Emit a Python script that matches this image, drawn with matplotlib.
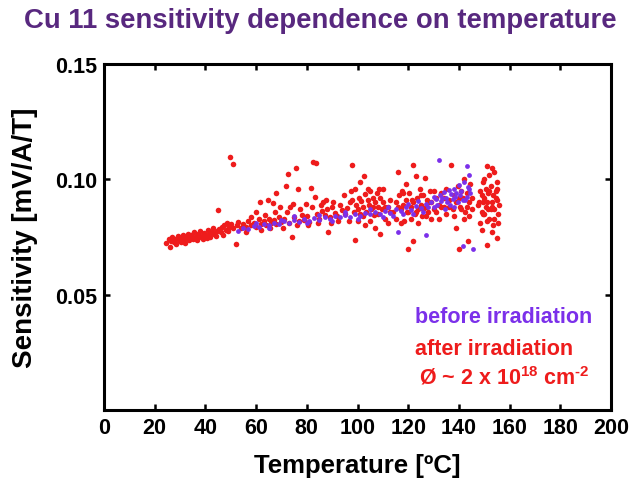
import matplotlib
matplotlib.use("Agg")
import matplotlib.pyplot as plt

plt.rcParams['font.family'] = ['Liberation Sans', 'DejaVu Sans']
plt.rcParams['mathtext.fontset'] = 'custom'
plt.rcParams['mathtext.rm'] = 'Liberation Sans:bold'
plt.rcParams['mathtext.bf'] = 'Liberation Sans:bold'
plt.rcParams['mathtext.it'] = 'Liberation Sans:bold'

# ---- data: after irradiation (red) ----
after_T = [
    24.5, 25.5, 26, 26.5, 27, 27.5, 28, 28.5, 29, 29.5,
    30, 30.5, 31, 31.5, 32, 32.5, 33, 33.5, 34, 34.5,
    35, 35.5, 36, 36.5, 37, 37.5, 38, 38.5, 39, 39.5,
    40, 40.5, 41, 41.5, 42, 42.5, 43, 43.5, 44, 44.5,
    45, 45.5, 46, 46.5, 47, 47.5, 48, 48.5, 49, 49.5,
    49.7, 50.9, 50, 51, 52, 52.5, 53, 54, 55, 56,
    57, 58, 59, 60, 61, 61.5, 62, 63, 64, 64.7,
    65, 66, 66.7, 67, 67.9, 68, 69, 70, 71, 71.8,
    72.6, 73, 74.2, 74.6, 75, 75.7, 76.5, 77, 78, 79,
    80, 81, 81.7, 82.4, 83.2, 83.6, 84, 85, 86, 86.4,
    87, 88, 88.4, 89, 90, 91, 92, 93, 94, 95,
    96, 97, 98, 98.5, 99, 99.5, 100, 100.5, 101, 101.5,
    102, 102.6, 103, 103.5, 104, 104.5, 105, 105.5, 106, 106.5,
    107, 107.5, 108, 108.5, 109, 109.5, 110, 111, 112, 113,
    114, 115, 116, 116.5, 117, 117.5, 118, 118.5, 119, 119.5,
    120, 120.5, 121, 121.5, 121.9, 122, 122.5, 123, 123.5, 124,
    124.5, 125, 125.5, 126, 126.6, 127, 127.5, 128, 128.5, 129,
    130, 131, 132, 133, 134, 135, 136, 137, 137.5, 138,
    139, 139.5, 140, 140.5, 141, 141.5, 142, 142.5, 143, 143.6,
    144, 144.5, 145, 148, 148.5, 149, 149.5, 150, 150.5, 151,
    151, 151.5, 152, 152.5, 153, 153, 153.5, 154, 154, 154.5,
    155, 155, 155.5, 150, 152, 149, 151, 153, 155, 147.5,
    150.5, 152.5, 154.5,
    56, 58, 60, 62, 63.5, 65.5, 67.5, 69.5, 70.5, 72,
    73.5, 76, 77.5, 79.5, 80.5, 82, 84.5, 85.5, 87.5, 89.5,
    90.5, 92.5, 94.5, 96.5, 97.5,
    98, 99, 100, 101, 102, 103, 104, 105, 106, 107,
    108, 109, 110, 111, 112, 113, 115, 116, 117, 118,
    119, 120, 121, 122, 123, 124, 125, 126, 127, 128,
    129, 130, 131, 132, 133, 134, 135, 136, 138, 139,
    140, 141, 142, 143, 144, 145, 148.5, 149, 149.5, 150,
    151, 152, 153, 154, 155, 156, 153.5, 151.5, 149.5, 155.5,
]
after_S = [
    0.0725, 0.0740, 0.0705, 0.0733, 0.0750, 0.0728, 0.0742, 0.0720, 0.0755, 0.0738,
    0.0745, 0.0730, 0.0760, 0.0740, 0.0725, 0.0750, 0.0765, 0.0735, 0.0748, 0.0758,
    0.0740, 0.0770, 0.0752, 0.0735, 0.0762, 0.0748, 0.0775, 0.0755, 0.0740, 0.0768,
    0.0758, 0.0745, 0.0780, 0.0762, 0.0750, 0.0772, 0.0790, 0.0765, 0.0755, 0.0778,
    0.0867, 0.0785, 0.0770, 0.0795, 0.0760, 0.0800, 0.0782, 0.0810, 0.0775, 0.0792,
    0.1097, 0.1066, 0.0805, 0.0788, 0.0720, 0.0800, 0.0815, 0.0790, 0.0808, 0.0795,
    0.0820, 0.0800, 0.0812, 0.0795, 0.0828, 0.0902, 0.0808, 0.0818, 0.0800, 0.0910,
    0.0830, 0.0812, 0.0897, 0.0822, 0.0941, 0.0805, 0.0835, 0.0815, 0.0828, 0.0971,
    0.1023, 0.0810, 0.0750, 0.0893, 0.0838, 0.1049, 0.0958, 0.0820, 0.0845, 0.0825,
    0.0840, 0.0815, 0.0962, 0.1075, 0.0923, 0.1070, 0.0850, 0.0830, 0.0862, 0.0902,
    0.0845, 0.0870, 0.0772, 0.0838, 0.0880, 0.0855, 0.0842, 0.0890, 0.0865, 0.0848,
    0.0875, 0.0900, 0.1062, 0.0860, 0.0737, 0.0890, 0.0870, 0.0920, 0.0850, 0.0905,
    0.0880, 0.1014, 0.0935, 0.0860, 0.0910, 0.0890, 0.0950, 0.0870, 0.0920, 0.0845,
    0.0900, 0.0940, 0.0880, 0.0960, 0.0763, 0.0870, 0.0900, 0.0830, 0.0880, 0.0910,
    0.0860, 0.0900, 0.1030, 0.0930, 0.0870, 0.0950, 0.0890, 0.0820, 0.0910, 0.0860,
    0.0698, 0.0940, 0.0880, 0.0910, 0.1062, 0.0733, 0.0850, 0.1014, 0.0920, 0.0870,
    0.0960, 0.0890, 0.0840, 0.0930, 0.1006, 0.0880, 0.0910, 0.0860, 0.0950, 0.0900,
    0.0870, 0.0920, 0.0890, 0.0940, 0.0880, 0.0960, 0.0910, 0.1062, 0.0870, 0.0930,
    0.0900, 0.0970, 0.0698, 0.0880, 0.0950, 0.0920, 0.1000, 0.0860, 0.0940, 0.0733,
    0.0900, 0.0980, 0.0870, 0.0900, 0.0950, 0.0860, 0.0990, 0.0920, 0.0880, 0.1058,
    0.0715, 0.0940, 0.0830, 0.0970, 0.1050, 0.0900, 0.0800, 0.1030, 0.0870, 0.0950,
    0.0745, 0.0910, 0.0850, 0.1000, 0.1020, 0.0780, 0.0820, 0.0770, 0.0990, 0.0890,
    0.0960, 0.0870, 0.0920,
    0.0770, 0.0835, 0.0860, 0.0780, 0.0845, 0.0790, 0.0860, 0.0880, 0.0790, 0.0860,
    0.0880, 0.0800, 0.0870, 0.0895, 0.0800, 0.0880, 0.0810, 0.0890, 0.0910, 0.0810,
    0.0900, 0.0820, 0.0930, 0.0820, 0.0950,
    0.0910, 0.0960, 0.0820, 0.0990, 0.0840, 0.0800, 0.0960, 0.0820, 0.0880, 0.0790,
    0.0850, 0.0920, 0.0960, 0.0880, 0.0810, 0.0860, 0.0830, 0.0880, 0.0810, 0.0940,
    0.0980, 0.0860, 0.0830, 0.0900, 0.0860, 0.0810, 0.0930, 0.0870, 0.0840, 0.0900,
    0.0830, 0.0950, 0.0860, 0.0830, 0.0880, 0.0920, 0.0850, 0.0880, 0.0840, 0.0790,
    0.0920, 0.0870, 0.0830, 0.0880, 0.0840, 0.0920, 0.0810, 0.0930, 0.0850, 0.0850,
    0.0900, 0.0950, 0.0880, 0.0830, 0.0960, 0.0890, 0.0930, 0.0870, 0.0900, 0.0810,
]

# ---- data: before irradiation (purple) ----
before_T = [
    53, 55, 57, 59, 61, 63, 65, 67, 69, 71,
    73, 75, 77, 79, 81, 83, 85, 87, 89, 91,
    93, 95, 97, 99, 101, 103, 105, 107, 109, 111,
    113, 115, 116, 117, 119, 121, 123, 125, 127, 127,
    129, 130, 131, 132, 132.5, 133, 134, 135, 136, 137,
    138, 139, 140, 141, 141.6, 142, 143, 143.5, 144, 145.5,
    144.5, 142.5, 139.5, 136.5, 134.5,
    110, 112, 114, 118, 120, 122, 124, 126, 128, 130,
    131.5, 133.5, 135.5, 137.5, 138.5, 140.5, 141.5, 143, 144, 138,
    75, 80, 85, 90, 95, 100, 105, 60, 65, 70,
]
before_S = [
    0.0778, 0.0790, 0.0785, 0.0798, 0.0792, 0.0805, 0.0800, 0.0812, 0.0805, 0.0818,
    0.0810, 0.0822, 0.0815, 0.0828, 0.0820, 0.0832, 0.0825, 0.0838, 0.0830, 0.0842,
    0.0835, 0.0845, 0.0838, 0.0850, 0.0842, 0.0855, 0.0848, 0.0858, 0.0850, 0.0862,
    0.0855, 0.0870, 0.0770, 0.0862, 0.0878, 0.0868, 0.0885, 0.0875, 0.0760, 0.0892,
    0.0900, 0.0880, 0.0915, 0.1084, 0.0930, 0.0905, 0.0945, 0.0920, 0.0955, 0.0935,
    0.0960, 0.0940, 0.0975, 0.0950, 0.0710, 0.0990, 0.1058, 0.0965, 0.1020, 0.0698,
    0.0940, 0.0910, 0.0900, 0.0890, 0.0870,
    0.0835, 0.0880, 0.0840, 0.0850, 0.0895, 0.0850, 0.0905, 0.0860, 0.0880, 0.0925,
    0.0890, 0.0920, 0.0900, 0.0915, 0.0925, 0.0930, 0.0910, 0.0925, 0.0960, 0.0880,
    0.0840, 0.0810, 0.0845, 0.0820, 0.0860, 0.0830, 0.0870, 0.0810, 0.0790, 0.0825,
]

x_ticks = [0, 20, 40, 60, 80, 100, 120, 140, 160, 180, 200]
y_ticks = [0.0, 0.05, 0.10, 0.15]
y_tick_labels = ["", "0.05", "0.10", "0.15"]

RED = "#ee1c1c"
PURPLE = "#7b30ea"
TITLE_C = "#58287f"

fig = plt.figure(figsize=(6.41, 4.81), dpi=100)
ax = fig.add_axes([104/641, 1-411/481, (611-104)/641, (411-65)/481])

ax.scatter(after_T, after_S, s=16, color=RED, linewidths=0, zorder=3)
ax.scatter(before_T, before_S, s=12, color=PURPLE, linewidths=0, zorder=4)

ax.set_xlim(0, 200)
ax.set_ylim(0, 0.15)
ax.set_xticks(x_ticks)
ax.set_yticks(y_ticks)
ax.set_yticklabels(y_tick_labels)
ax.tick_params(direction='in', length=4, width=1.8, top=True, right=True,
               labelsize=15.5, pad=5)
for lab in ax.get_xticklabels() + ax.get_yticklabels():
    lab.set_fontweight('bold')
for sp in ax.spines.values():
    sp.set_linewidth(2.2)

ax.set_xlabel("Temperature [ºC]", fontsize=18.5, fontweight='bold', labelpad=11)
ax.set_ylabel("Sensitivity [mV/A/T]", fontsize=20, fontweight='bold', labelpad=12)

fig.text(0.5, 1-21/481, "Cu 11 sensitivity dependence on temperature",
         ha='center', va='center', fontsize=19.8, fontweight='bold', color=TITLE_C)

ax.text(0.613, 0.269, "before irradiation", transform=ax.transAxes,
        fontsize=15.5, fontweight='bold', color=PURPLE, ha='left', va='center')
ax.text(0.613, 0.179, "after irradiation", transform=ax.transAxes,
        fontsize=15.5, fontweight='bold', color=RED, ha='left', va='center')
ax.text(0.622, 0.095, "Ø ~ 2 x 10$^{18}$ cm$^{\u20102}$", transform=ax.transAxes,
        fontsize=15.5, fontweight='bold', color=RED, ha='left', va='center')

fig.savefig("out.png", dpi=100)
